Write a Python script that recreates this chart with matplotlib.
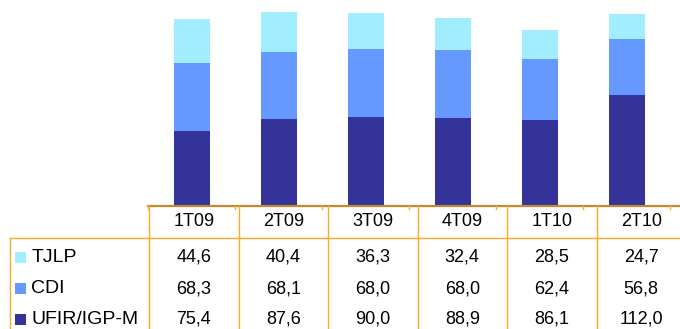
import numpy as np
import matplotlib
matplotlib.use("Agg")
import matplotlib.pyplot as plt

plt.rcParams['font.family'] = ['Liberation Sans', 'DejaVu Sans']

# Dados por trimestre
trimestres = ["1T09", "2T09", "3T09", "4T09", "1T10", "2T10"]
ufir = [75.4, 87.6, 90.0, 88.9, 86.1, 112.0]
cdi = [68.3, 68.1, 68.0, 68.0, 62.4, 56.8]
tjlp = [44.6, 40.4, 36.3, 32.4, 28.5, 24.7]

series = ["TJLP", "CDI", "UFIR/IGP-M"]
cores = {"UFIR/IGP-M": "#333399", "CDI": "#6699FF", "TJLP": "#A0EEFF"}
valores = {"TJLP": tjlp, "CDI": cdi, "UFIR/IGP-M": ufir}

W, H = 680, 329
fig = plt.figure(figsize=(W / 100, H / 100), dpi=100)

# eixo das barras (em pixels: x 148..670, base em y=205.7)
base_y = 205.7
esq, larg = 148.3, 87.0 * 6
ax = fig.add_axes([esq / W, (H - base_y) / H, larg / W, base_y / H])
x = np.arange(len(trimestres))
ax.bar(x, ufir, 0.41, color=cores["UFIR/IGP-M"])
ax.bar(x, cdi, 0.41, bottom=ufir, color=cores["CDI"])
ax.bar(x, tjlp, 0.41, bottom=np.add(ufir, cdi), color=cores["TJLP"])
ax.set_xlim(-0.5, 5.5)
ax.set_ylim(0, base_y / 0.99)
ax.axis("off")

# tabela de dados desenhada em coordenadas de pixel
tb = fig.add_axes([0, 0, 1, 1])
tb.set_xlim(0, W)
tb.set_ylim(H, 0)
tb.axis("off")

laranja = "#FFA726"
tb.plot([148, W], [base_y, base_y], color="#C8892E", lw=1.6)
for i in range(7):
    tx = esq + 87.0 * i
    tb.plot([tx, tx], [base_y, base_y + 3], color=laranja, lw=1)

col0, colw = 149.0, 89.5
for i in range(7):
    cx = col0 + colw * i
    tb.plot([cx, cx], [base_y, H], color=laranja, lw=1)
tb.plot([10, W], [238.3, 238.3], color=laranja, lw=1)
tb.plot([10, 10], [238.3, H], color=laranja, lw=1)

fs = 13
for i, t in enumerate(trimestres):
    tb.text(col0 + colw * (i + 0.5), 221.7, t, ha="center", va="center", fontsize=fs)

linhas_y = [257.5, 288.5, 319.5]
for s, y in zip(series, linhas_y):
    tb.add_patch(plt.Rectangle((15, y - 5.5), 11, 11, color=cores[s], lw=0))
    tb.text(31.5, y, s, ha="left", va="center", fontsize=14)
    for i, v in enumerate(valores[s]):
        tb.text(col0 + colw * (i + 0.5), y, f"{v:.1f}".replace(".", ","),
                ha="center", va="center", fontsize=fs)

fig.savefig("out.png", dpi=100)
